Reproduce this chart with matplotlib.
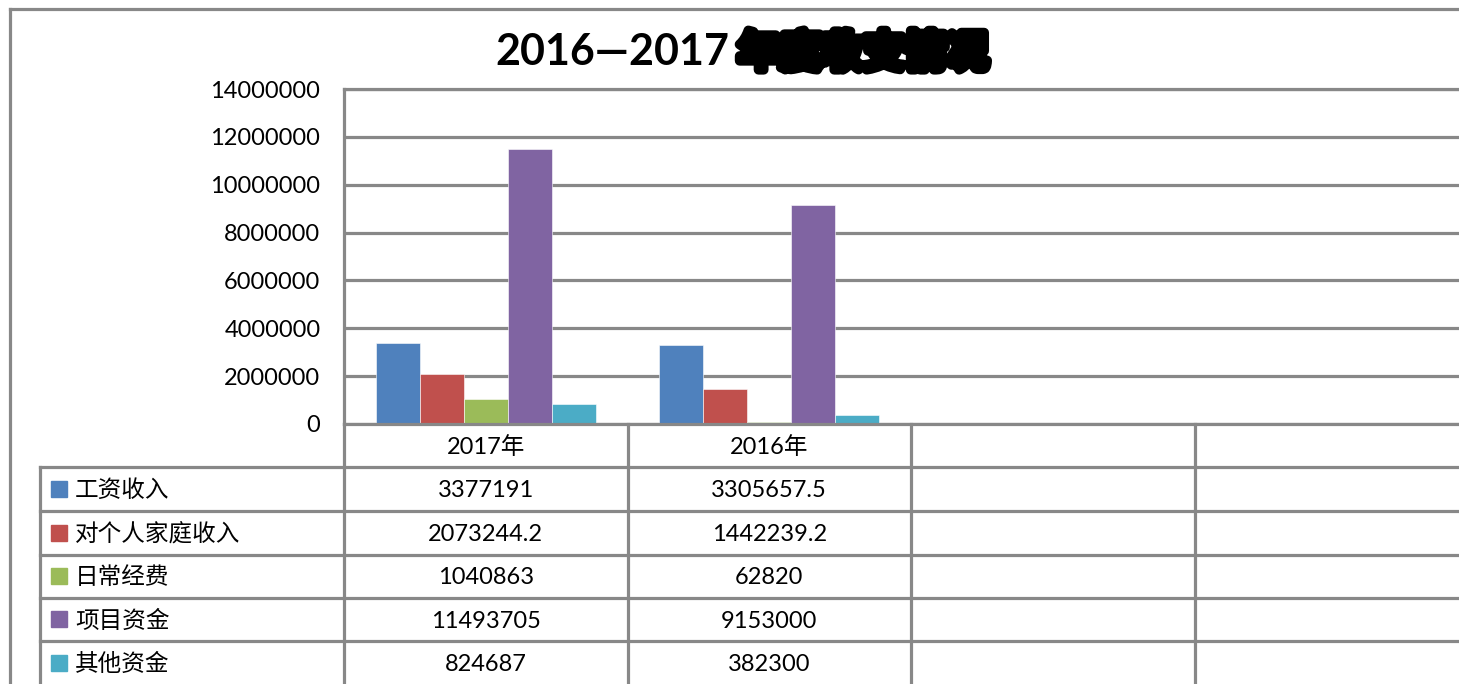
import matplotlib.pyplot as plt
import matplotlib.patheffects as pe
from matplotlib.lines import Line2D
from matplotlib.patches import Rectangle
from matplotlib.ticker import FuncFormatter
from matplotlib.transforms import blended_transform_factory
import numpy as np

plt.rcParams['font.family'] = ['Lato', 'Noto Sans CJK SC', 'DejaVu Sans']

# data
categories = ['2017年', '2016年', '', '']
series_names = ['工资收入', '对个人家庭收入', '日常经费', '项目资金', '其他资金']
values = [
    [3377191, 3305657.5],
    [2073244.2, 1442239.2],
    [1040863, 62820],
    [11493705, 9153000],
    [824687, 382300],
]
value_labels = [
    ['3377191', '3305657.5'],
    ['2073244.2', '1442239.2'],
    ['1040863', '62820'],
    ['11493705', '9153000'],
    ['824687', '382300'],
]
colors = ['#4F81BD', '#C0504D', '#9BBB59', '#8064A2', '#4BACC6']
title_num = '2016—2017'
title_cn = '年度收支情况'

W, H = 1459, 684
GRAY = '#888888'
LW = 2.3

def fx(px):
    return px / W

def fy(py):
    return 1 - py / H

fig = plt.figure(figsize=(W / 100, H / 100), dpi=100)
fig.patch.set_facecolor('white')

# outer chart border
fig.add_artist(Line2D([fx(10), fx(10)], [fy(9), fy(H + 5)], color=GRAY, lw=LW))
fig.add_artist(Line2D([fx(10), fx(W + 5)], [fy(9), fy(9)], color=GRAY, lw=LW))

# plot area
left, top, bottom = 344, 89, 424
colw = 283.5
ax = fig.add_axes([fx(left), fy(bottom), 4 * colw / W, (bottom - top) / H])
ax.set_xlim(0, 4)
ax.set_ylim(0, 14000000)
ax.set_yticks(np.arange(0, 14000001, 2000000))
ax.yaxis.set_major_formatter(FuncFormatter(lambda v, p: '%d' % v))
ax.yaxis.grid(True, color=GRAY, lw=LW)
ax.set_axisbelow(True)
ax.set_xticks([])
ax.spines['right'].set_visible(False)
for s in ['left', 'bottom', 'top']:
    ax.spines[s].set_color(GRAY)
    ax.spines[s].set_linewidth(LW)
ax.tick_params(axis='y', length=0, pad=17, labelsize=17)

bw = 44 / colw
xpos = np.arange(2) + 0.5
for i, (vals, c) in enumerate(zip(values, colors)):
    ax.bar(xpos + (i - 2) * bw, vals, width=bw, color=c, edgecolor='white', linewidth=0.4)

# data table
trans = blended_transform_factory(ax.transData, fig.transFigure)
row_y = [424, 466.5, 510.5, 554.5, 597.5, 641, 684]
for k in range(5):
    fig.add_artist(Line2D([k, k], [fy(bottom), fy(H + 5)], transform=trans, color=GRAY, lw=LW, clip_on=False))
fig.add_artist(Line2D([fx(40), fx(40)], [fy(row_y[1]), fy(H + 5)], color=GRAY, lw=LW))
for yy in row_y[1:-1]:
    fig.add_artist(Line2D([fx(40), fx(W + 5)], [fy(yy), fy(yy)], color=GRAY, lw=LW))

for j, cat in enumerate(categories):
    if cat:
        fig.text(j + 0.5, fy((row_y[0] + row_y[1]) / 2 + 2), cat, transform=trans,
                 ha='center', va='center', fontsize=17)

for i, name in enumerate(series_names):
    ymid = (row_y[i + 1] + row_y[i + 2]) / 2
    yc = fy(ymid + 2)
    fig.add_artist(Rectangle((fx(51), fy(ymid) - 8 / H), 16 / W, 16 / H, color=colors[i]))
    fig.text(fx(75), yc, name, ha='left', va='center', fontsize=17,
             family=['Noto Sans CJK SC'])
    for j, lab in enumerate(value_labels[i]):
        fig.text(j + 0.5, yc, lab, transform=trans, ha='center', va='center', fontsize=17)

# title
fig.text(fx(495), fy(52), title_num, ha='left', va='center', fontsize=31, fontweight='bold')
fig.text(fx(738), fy(54), title_cn, ha='left', va='center', fontsize=30, fontweight='bold',
         family=['Noto Sans CJK SC'],
         path_effects=[pe.withStroke(linewidth=7, foreground='black')])

fig.savefig('out.png', dpi=100, facecolor='white')
